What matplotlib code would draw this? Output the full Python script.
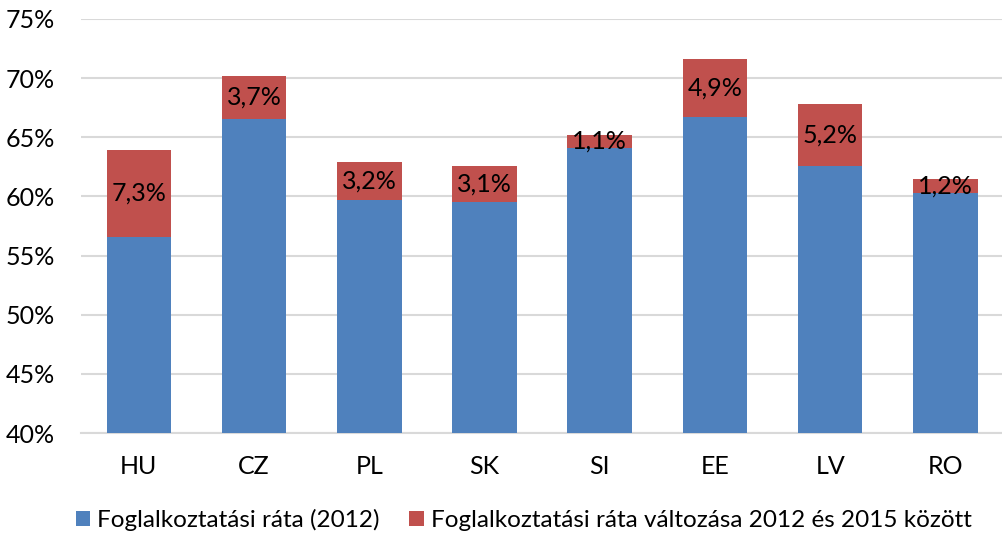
import numpy as np
import matplotlib.pyplot as plt
from matplotlib.ticker import FuncFormatter

plt.rcParams['font.family'] = ['Lato', 'DejaVu Sans']

countries = ['HU', 'CZ', 'PL', 'SK', 'SI', 'EE', 'LV', 'RO']
rate_2012 = [56.6, 66.5, 59.7, 59.5, 64.1, 66.7, 62.6, 60.3]
change_12_15 = [7.3, 3.7, 3.2, 3.1, 1.1, 4.9, 5.2, 1.2]

blue = '#4F81BD'
red = '#C0504D'

fig = plt.figure(figsize=(10.03, 5.38), dpi=100)
ax = fig.add_axes([0.081, 0.195, 0.919, 0.77])

x = np.arange(len(countries))
w = 0.56
ax.bar(x, rate_2012, w, color=blue, label='Foglalkoztatási ráta (2012)', zorder=3)
ax.bar(x, change_12_15, w, bottom=rate_2012, color=red,
       label='Foglalkoztatási ráta változása 2012 és 2015 között', zorder=3)

for xi, b, c in zip(x, rate_2012, change_12_15):
    ax.text(xi, b + c / 2, f'{c:.1f}%'.replace('.', ','), ha='center', va='center',
            fontsize=18, color='black', zorder=4)

ax.set_ylim(40, 75)
ax.set_yticks(np.arange(40, 76, 5))
ax.yaxis.set_major_formatter(FuncFormatter(lambda v, p: f'{v:.0f}%'))
ax.set_xlim(-0.5, len(countries) - 0.5)
ax.set_xticks(x)
ax.set_xticklabels(countries)
ax.grid(axis='y', color='#D9D9D9', linewidth=1.5, zorder=0)
for s in ['top', 'right', 'left']:
    ax.spines[s].set_visible(False)
ax.spines['bottom'].set_color('#D9D9D9')
ax.spines['bottom'].set_linewidth(1.5)
ax.tick_params(axis='both', length=0, labelsize=18, colors='black')
ax.tick_params(axis='y', pad=19)
ax.tick_params(axis='x', pad=16)

ax.legend(loc='lower center', bbox_to_anchor=(0.48, -0.29), ncol=2, frameon=False,
          fontsize=17.5, handlelength=0.6, handleheight=0.6, handletextpad=0.3,
          columnspacing=1.2)

fig.savefig('out.png', dpi=100)
